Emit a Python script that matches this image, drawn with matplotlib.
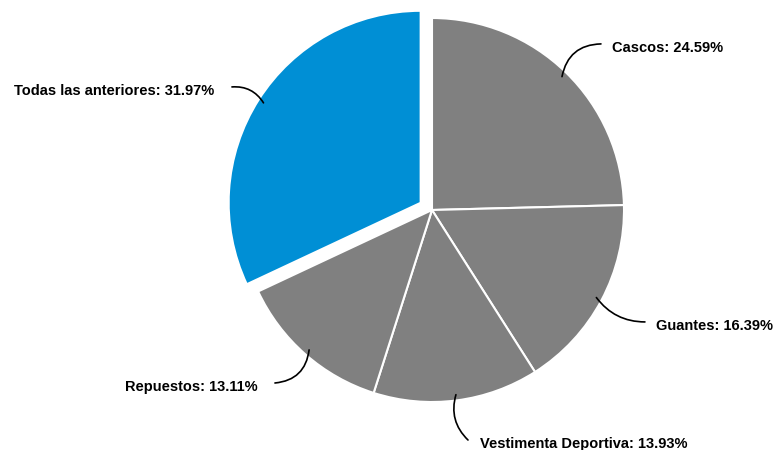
import numpy as np
import matplotlib
matplotlib.use('Agg')
import matplotlib.pyplot as plt

plt.rcParams['font.family'] = ['Liberation Sans', 'DejaVu Sans']

categorias = ['Cascos', 'Guantes', 'Vestimenta Deportiva', 'Repuestos', 'Todas las anteriores']
porcentajes = [24.59, 16.39, 13.93, 13.11, 31.97]
colores = ['#808080', '#808080', '#808080', '#808080', '#008FD5']
explode = [0, 0, 0, 0, 0.07]

# label placement (end of leader line, in pie radii), curvature and text alignment
label_pos = [(0.88, 0.865), (1.109, -0.583), (0.1875, -1.198), (-0.818, -0.901), (-1.042, 0.641)]
label_rad = [-0.4, 0.25, 0.3, -0.4, 0.3]
label_ha = ['left', 'left', 'left', 'right', 'right']

R = 192.0
fig = plt.figure(figsize=(7.76, 4.5), dpi=100)
ax = fig.add_axes([0, 0, 1, 1])

wedges, _ = ax.pie(porcentajes, colors=colores, startangle=90, counterclock=False,
                   explode=explode, radius=1.0,
                   wedgeprops=dict(edgecolor='white', linewidth=1.5))

# pie() resets the limits, so set them afterwards
ax.set_xlim(-432 / R, (776 - 432) / R)
ax.set_ylim((210 - 450) / R, 210 / R)
ax.set_aspect('equal')
ax.axis('off')

for w, ex, cat, val, pos, rad, ha in zip(wedges, explode, categorias, porcentajes,
                                         label_pos, label_rad, label_ha):
    ang = np.deg2rad((w.theta1 + w.theta2) / 2)
    r0 = 0.97 + ex
    anchor = (r0 * np.cos(ang), r0 * np.sin(ang))
    ax.annotate('', xy=pos, xytext=anchor,
                arrowprops=dict(arrowstyle='-', color='black', lw=1.2,
                                shrinkA=0, shrinkB=0,
                                connectionstyle=f'arc3,rad={rad}'))
    dx = 0.06 if ha == 'left' else -0.09
    ax.text(pos[0] + dx, pos[1] - 0.02, f'{cat}: {val:.2f}%', ha=ha, va='center',
            fontsize=10.5, fontweight='bold', color='black')

fig.savefig('out.png', dpi=100)
